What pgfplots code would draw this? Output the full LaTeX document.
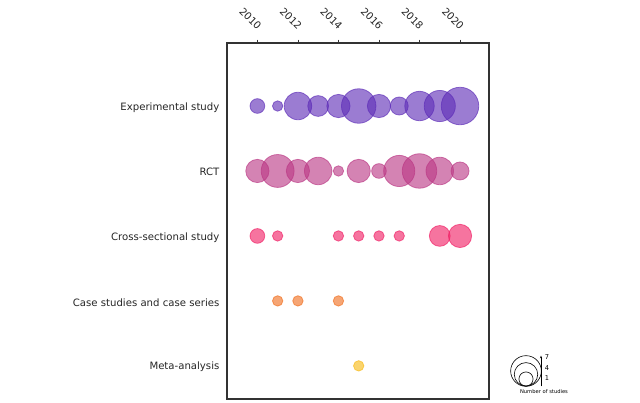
\documentclass[border=0pt]{standalone}
\usepackage{pgfplots}
\pgfplotsset{compat=1.18}
\usepackage{pgfplotstable}
\usepackage{fontspec}
\setmainfont{DejaVu Sans}
\usetikzlibrary{arrows.meta}

\definecolor{cExp}{RGB}{93,44,183}
\definecolor{cRCT}{RGB}{186,55,132}
\definecolor{cCross}{RGB}{240,30,100}
\definecolor{cCase}{RGB}{240,110,30}
\definecolor{cMeta}{RGB}{247,185,20}

% year, number of studies
\pgfplotstableread{
year n
2010 2
2011 1
2012 7
2013 4
2014 5
2015 11
2016 5
2017 3
2018 8
2019 9
2020 13
}\expdata

\pgfplotstableread{
year n
2010 5
2011 10
2012 5
2013 7
2014 1
2015 5
2016 2
2017 9
2018 11
2019 7
2020 3
}\rctdata

\pgfplotstableread{
year n
2010 2
2011 1
2014 1
2015 1
2016 1
2017 1
2019 4
2020 5
}\crossdata

\pgfplotstableread{
year n
2011 1
2012 1
2014 1
}\casedata

\pgfplotstableread{
year n
2015 1
}\metadata

\pgfplotsset{
  bubble/.style={
    scatter, only marks, mark=*,
    scatter/use mapped color={draw=#1, fill=#1, draw opacity=0.65, fill opacity=0.62, line width=0.6pt},
    visualization depends on={3.9*sqrt(\thisrow{n}) \as \msize},
    scatter/@pre marker code/.append style={/tikz/mark size=\msize},
  }
}

\begin{document}
\begin{tikzpicture}
\useasboundingbox (0,0) rectangle (480pt,302.25pt);
\begin{axis}[
  at={(170.25pt,3pt)}, anchor=south west,
  scale only axis, width=196.5pt, height=267pt,
  xmin=2008.5, xmax=2021.43, ymin=-0.51, ymax=4.97,
  axis line style={black!80, line width=0.8pt},
  xtick={2010,2012,2014,2016,2018,2020},
  xtick pos=upper, xticklabel pos=upper,
  tick align=outside,
  major tick length=2.5pt,
  x tick style={black!80, line width=0.6pt},
  ytick={0,1,2,3,4},
  yticklabels={Meta-analysis,Case studies and case series,Cross-sectional study,RCT,Experimental study},
  y tick style={draw=none},
  tick label style={font=\fontsize{7.6}{9}\selectfont, black!85},
  /pgf/number format/assume math mode=true,
  x tick label style={/pgf/number format/1000 sep={}},
  xticklabel style={xshift=-5.25pt, yshift=15.75pt, rotate=-45, anchor=center},
  yticklabel style={anchor=east, xshift=0.3pt, yshift=-1pt},
  clip=false,
]
\addplot[bubble=cExp] table[x=year, y expr=4] {\expdata};
\addplot[bubble=cRCT] table[x=year, y expr=3] {\rctdata};
\addplot[bubble=cCross] table[x=year, y expr=2] {\crossdata};
\addplot[bubble=cCase] table[x=year, y expr=1] {\casedata};
\addplot[bubble=cMeta] table[x=year, y expr=0] {\metadata};
\end{axis}

% size legend
\begin{scope}[line width=0.45pt, black]
\draw (394.5pt,24pt) circle (11.5pt);
\draw (394.5pt,21.5pt) circle (8.8pt);
\draw (394.5pt,18pt) circle (5.3pt);
\draw[-{Stealth[length=2pt,width=1.6pt]}] (405.75pt,12.4pt) -- (405.75pt,35.5pt);
\end{scope}
\node[anchor=west, inner sep=0pt, font=\fontsize{5}{5}\selectfont] at (408.5pt,34.5pt) {7};
\node[anchor=west, inner sep=0pt, font=\fontsize{5}{5}\selectfont] at (408.5pt,26.25pt) {4};
\node[anchor=west, inner sep=0pt, font=\fontsize{5}{5}\selectfont] at (408.5pt,18.75pt) {1};
\node[inner sep=0pt, font=\fontsize{3.9}{4.5}\selectfont] at (408pt,8.25pt) {Number of studies};
\end{tikzpicture}
\end{document}
